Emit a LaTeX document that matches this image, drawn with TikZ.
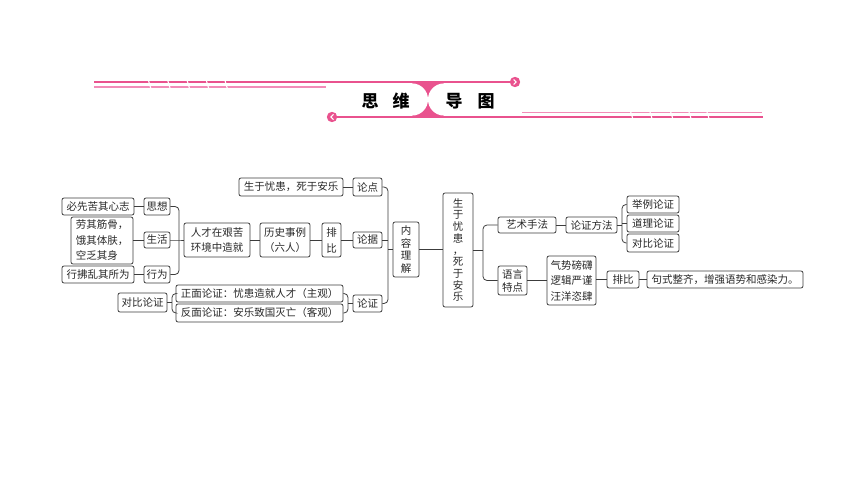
\documentclass[tikz,border=0pt]{standalone}
\usepackage{fontspec}
\newfontfamily\cjk{Noto Sans CJK SC}
\newcommand\myfs[1]{\fontsize{10.5}{#1}\selectfont}
\definecolor{pinkA}{RGB}{233,82,142}
\definecolor{pinkB}{RGB}{242,140,184}
\definecolor{linec}{RGB}{60,60,60}
\definecolor{textc}{RGB}{40,40,40}
\tikzset{
  box/.style={draw=linec, rounded corners=2pt, line width=0.8pt, inner sep=0pt,
    font=\cjk\myfs{13}, text=textc, align=center},
  conn/.style={draw=linec, line width=0.8pt},
  brk/.style={conn, rounded corners=4pt},
  gap/.style={white, line width=1.1pt},
  ttl/.style={font=\cjk\bfseries\fontsize{17}{17}\selectfont, text=black, inner sep=0pt},
}
\begin{document}
\begin{tikzpicture}[x=1pt,y=-1pt]
\useasboundingbox (0,0) rectangle (860,484);
% ---------- header ----------
\fill[pinkA] (412,82) rectangle (444,117);
\fill[white, rounded corners=16pt] (345,83.4) rectangle (428,115.6);
\fill[white, rounded corners=16pt] (428,83.4) rectangle (512,115.6);
\draw[pinkA, line width=2.7pt] (94,82) -- (512,82);
\draw[pinkB, line width=1.6pt] (94,86.8) -- (326,86.8);
\foreach \x in {149.5,168.8,188.2,207.4,226}{\draw[gap] (\x-1.3,79.6) -- (\x+1.3,88.4);}
\draw[pinkA, line width=2.7pt] (335,117) -- (763,117);
\draw[pinkB, line width=1.6pt] (522,112.7) -- (762,112.7);
\foreach \x in {631.7,651,671.7,690,708}{\draw[gap] (\x-1.3,111) -- (\x+1.3,119.4);}
\fill[pinkA] (515,82) circle (5.2);
\draw[white, line width=1pt] (513.6,79.4) -- (516.2,82) -- (513.6,84.6);
\fill[pinkA] (332,117) circle (5.2);
\draw[white, line width=1pt] (333.4,114.4) -- (330.8,117) -- (333.4,119.6);
\node[ttl] (t1) at (370,101.5) {思};
\node[ttl] (t2) at (401,101.5) {维};
\node[ttl] (t3) at (454,101.5) {导};
\node[ttl] (t4) at (486,101.5) {图};
% ---------- left part ----------
\node[box, minimum width=72pt, minimum height=17pt] (n1) at (98,206.5) {必先苦其心志};
\node[box, minimum width=26pt, minimum height=17pt] (sx) at (157,206.5) {思想};
\node[box, minimum width=62pt, minimum height=47pt, align=left, font=\cjk\myfs{15.5}] (n2) at (102,240.5) {劳其筋骨，\\饿其体肤，\\空乏其身};
\node[box, minimum width=26pt, minimum height=16pt] (sh) at (157,240) {生活};
\node[box, minimum width=72pt, minimum height=17pt] (n3) at (98,274.5) {行拂乱其所为};
\node[box, minimum width=26pt, minimum height=17pt] (xw) at (157,274.5) {行为};
\node[box, minimum width=66pt, minimum height=34pt, font=\cjk\myfs{15.6}] (rc) at (217,240) {人才在艰苦\\环境中造就};
\node[box, minimum width=50pt, minimum height=34pt, font=\cjk\myfs{15.6}] (ls) at (285,240) {历史事例\\（六人）};
\node[box, minimum width=19pt, minimum height=34pt, font=\cjk\myfs{16}] (pb) at (331.5,240) {排\\比};
\node[box, minimum width=29pt, minimum height=16pt] (lj) at (367.5,240) {论据};
\node[box, minimum width=104pt, minimum height=18pt] (top) at (291,187) {生于忧患，死于安乐};
\node[box, minimum width=29pt, minimum height=18pt] (ld) at (367.5,187) {论点};
\node[box, minimum width=49pt, minimum height=19pt] (db) at (142.5,302.5) {对比论证};
\node[box, minimum width=167pt, minimum height=17pt] (zm) at (259.5,293.5) {正面论证：忧患造就人才（主观）};
\node[box, minimum width=167pt, minimum height=18pt] (fm) at (259.5,313) {反面论证：安乐致国灭亡（客观）};
\node[box, minimum width=29pt, minimum height=17pt] (lz) at (367.5,303.5) {论证};
\node[box, minimum width=26pt, minimum height=55pt, font=\cjk\myfs{12.5}] (nr) at (406,249.5) {内\\容\\理\\解};
\node[box, minimum width=30pt, minimum height=114pt, font=\cjk\myfs{11.7}] (main) at (458,250) {生\\于\\忧\\患\\，\\死\\于\\安\\乐};
% ---------- right part ----------
\node[box, minimum width=58pt, minimum height=16pt] (ys) at (527,225) {艺术手法};
\node[box, minimum width=29pt, minimum height=29pt, font=\cjk\myfs{13}] (yy) at (512.5,280.5) {语言\\特点};
\node[box, minimum width=49pt, minimum height=49pt, font=\cjk\myfs{15.5}] (qs) at (571.5,280.5) {气势磅礴\\逻辑严谨\\汪洋恣肆};
\node[box, minimum width=51pt, minimum height=16pt] (lf) at (591.5,225) {论证方法};
\node[box, minimum width=52pt, minimum height=17pt] (jl) at (653,204.5) {举例论证};
\node[box, minimum width=52pt, minimum height=17pt] (dl) at (653,223.5) {道理论证};
\node[box, minimum width=52pt, minimum height=18pt] (dbl) at (653,243) {对比论证};
\node[box, minimum width=32pt, minimum height=17pt] (pb2) at (623,279.5) {排比};
\node[box, minimum width=156pt, minimum height=17pt] (jz) at (725,279.5) {句式整齐，增强语势和感染力。};
% ---------- connectors ----------
\draw[conn] (n1.east) -- (sx.west);
\draw[conn] (n2.east |- sh.west) -- (sh.west);
\draw[conn] (n3.east) -- (xw.west);
\coordinate (b1) at (179,240);
\draw[brk] (sx.east) -| (b1) |- (xw.east);
\draw[conn] (sh.east) -- (b1) -- (rc.west);
\draw[conn] (rc.east) -- (ls.west);
\draw[conn] (ls.east) -- (pb.west);
\draw[conn] (pb.east) -- (lj.west);
\draw[conn] (top.east) -- (ld.west);
\coordinate (b5) at (172,302.5);
\draw[brk] (zm.west) -| (b5) |- (fm.west);
\draw[conn] (db.east) -- (b5);
\coordinate (b6) at (348,303.5);
\draw[brk] (zm.east) -| (b6) |- (fm.east);
\draw[conn] (b6) -- (lz.west);
\coordinate (b2) at (388,249.5);
\draw[brk] (ld.east) -| (b2) |- (lz.east);
\draw[conn] (lj.east) -- (lj.east -| b2);
\draw[conn] (b2) -- (nr.west);
\draw[conn] (nr.east) -- (nr.east -| main.west);
\coordinate (b3) at (483,250);
\draw[brk] (ys.west) -| (b3) |- (yy.west);
\draw[conn] (main.east |- b3) -- (b3);
\draw[conn] (ys.east) -- (lf.west);
\coordinate (b4) at (622,225);
\draw[brk] (jl.west) -| (b4) |- (dbl.west);
\draw[conn] (lf.east) -- (b4);
\draw[conn] (dl.west) -- (dl.west -| b4);
\draw[conn] (yy.east) -- (qs.west);
\draw[conn] (qs.east |- pb2.west) -- (pb2.west);
\draw[conn] (pb2.east) -- (jz.west);
\end{tikzpicture}
\end{document}
